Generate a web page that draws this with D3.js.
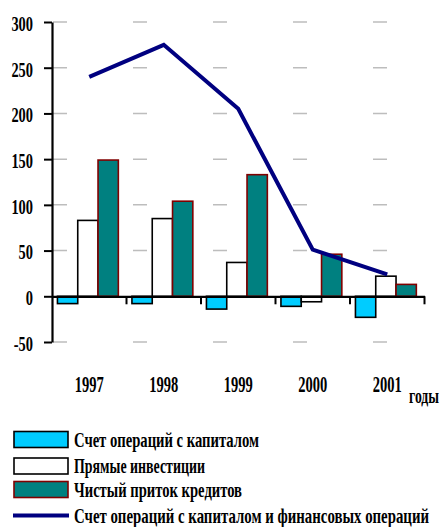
<!DOCTYPE html>
<html>
<head>
<meta charset="utf-8">
<script src="https://cdn.jsdelivr.net/npm/d3@7"></script>
<style>
  body { margin: 0; background: #fff; }
  svg text { font-family: "Liberation Serif", "DejaVu Serif", serif; font-weight: bold; }
</style>
</head>
<body>
<div id="chart"></div>
<script>
// Data
const years = ["1997", "1998", "1999", "2000", "2001"];
const capitalAccount = [-8, -8, -14, -11, -23];      // Счет операций с капиталом
const directInvestment = [83, 85, 37, -6, 22];      // Прямые инвестиции
const netCredit = [149, 104, 133, 46, 13];          // Чистый приток кредитов
const totalAccount = [240, 275, 205, 51, 24];       // Счет операций с капиталом и финансовых операций
const yTicks = [-50, 0, 50, 100, 150, 200, 250, 300];

const seriesKeys = ["capital", "direct", "credit"];
const seriesNames = {
    capital: "Счет операций с капиталом",
    direct: "Прямые инвестиции",
    credit: "Чистый приток кредитов",
    total: "Счет операций с капиталом и финансовых операций"
};
const seriesStyle = {
    capital: { fill: "#00ccff", stroke: "#000000" },
    direct: { fill: "#ffffff", stroke: "#000000" },
    credit: { fill: "#008080", stroke: "#800000" }
};

const rows = years.map((y, i) => ({
    year: y,
    capital: capitalAccount[i],
    direct: directInvestment[i],
    credit: netCredit[i],
    total: totalAccount[i]
}));

const FONT = "Liberation Serif";
const width = 440, height = 527;
const svg = d3.select("#chart").append("svg")
    .attr("width", width)
    .attr("height", height);

// Scales
const x = d3.scaleBand().domain(years).range([52, 424.5]).padding(0);
const xs = d3.scaleBand().domain(seriesKeys).range([0, x.bandwidth()])
    .paddingInner(0).paddingOuter(0.335).align(0.4);
const y = d3.scaleLinear().domain([-50, 300]).range([342, 22]);

// squeeze text horizontally to mimic the condensed face
function condense(sel, k) {
    sel.each(function () {
        const w = this.getComputedTextLength();
        d3.select(this).attr("textLength", w * k).attr("lengthAdjust", "spacingAndGlyphs");
    });
}

// Gridlines (dashed, grey)
svg.append("g").attr("class", "grid")
    .selectAll("line")
    .data(yTicks.filter(d => d !== 0))
    .join("line")
    .attr("x1", 53)
    .attr("x2", 424)
    .attr("y1", d => y(d))
    .attr("y2", d => y(d))
    .attr("stroke", "#bdbdbd")
    .attr("stroke-width", 1.5)
    .attr("stroke-dasharray", "14,66");

// Bars
const groups = svg.append("g").attr("class", "bars")
    .selectAll("g")
    .data(rows)
    .join("g")
    .attr("transform", d => `translate(${x(d.year)},0)`);

groups.selectAll("rect")
    .data(d => seriesKeys.map(k => ({ key: k, value: d[k] })))
    .join("rect")
    .attr("x", d => xs(d.key))
    .attr("width", xs.bandwidth())
    .attr("y", d => y(Math.max(0, d.value)))
    .attr("height", d => Math.abs(y(d.value) - y(0)))
    .attr("fill", d => seriesStyle[d.key].fill)
    .attr("stroke", d => seriesStyle[d.key].stroke)
    .attr("stroke-width", 1.6);

// Y axis
const yAxis = svg.append("g")
    .attr("transform", "translate(52,0)")
    .call(d3.axisLeft(y).tickValues(yTicks).tickSize(8).tickPadding(11).tickSizeOuter(0))
    .attr("font-family", FONT);
yAxis.select(".domain").attr("stroke", "#000").attr("stroke-width", 2.2);
yAxis.selectAll(".tick line").attr("stroke", "#000").attr("stroke-width", 2);
yAxis.selectAll(".tick text")
    .attr("fill", "#000")
    .attr("font-family", FONT)
    .attr("font-size", 20)
    .attr("dy", "0.42em")
    .text(d => d < 0 ? "-" + Math.abs(d) : d);
condense(yAxis.selectAll(".tick text"), 0.72);

// Zero line with category ticks
const xAxis = svg.append("g")
    .attr("transform", `translate(0,${y(0)})`)
    .call(d3.axisBottom(x).tickSize(0).tickPadding(96).tickSizeOuter(0))
    .attr("font-family", FONT);
xAxis.select(".domain").attr("stroke", "#000").attr("stroke-width", 2.2);
xAxis.selectAll(".tick text")
    .attr("fill", "#000")
    .attr("font-family", FONT)
    .attr("font-size", 23)
    .attr("dy", "0")
    .attr("textLength", 29)
    .attr("lengthAdjust", "spacingAndGlyphs");

xAxis.selectAll(".sep")
    .data(years.slice(1).map(d => x(d)).concat([x.range()[1]]))
    .join("line")
    .attr("class", "sep")
    .attr("x1", d => d)
    .attr("x2", d => d)
    .attr("y1", 0)
    .attr("y2", 8)
    .attr("stroke", "#000")
    .attr("stroke-width", 2);

svg.append("text")
    .attr("x", 409)
    .attr("y", 403)
    .attr("font-family", FONT)
    .attr("font-size", 22)
    .attr("textLength", 30)
    .attr("lengthAdjust", "spacingAndGlyphs")
    .text("годы");

// Line series
const line = d3.line()
    .x(d => x(d.year) + x.bandwidth() / 2)
    .y(d => y(d.total));

svg.append("path")
    .datum(rows)
    .attr("d", line)
    .attr("fill", "none")
    .attr("stroke", "#000080")
    .attr("stroke-width", 4);

// Legend
const legendItems = [
    { key: "capital", cy: 439.5, width: 185 },
    { key: "direct", cy: 466, width: 131 },
    { key: "credit", cy: 489.5, width: 168 },
    { key: "total", cy: 515.5, width: 355 }
];

const legend = svg.append("g").attr("class", "legend");
legendItems.forEach(item => {
    if (item.key === "total") {
        legend.append("line")
            .attr("x1", 13).attr("x2", 69)
            .attr("y1", item.cy).attr("y2", item.cy)
            .attr("stroke", "#000080")
            .attr("stroke-width", 4);
    } else {
        legend.append("rect")
            .attr("x", 14).attr("y", item.cy - 8)
            .attr("width", 54).attr("height", 16)
            .attr("fill", seriesStyle[item.key].fill)
            .attr("stroke", seriesStyle[item.key].stroke)
            .attr("stroke-width", 1.6);
    }
    legend.append("text")
        .attr("x", 74)
        .attr("y", item.cy + 7)
        .attr("font-family", FONT)
        .attr("font-size", 21)
        .attr("textLength", item.width)
        .attr("lengthAdjust", "spacingAndGlyphs")
        .text(seriesNames[item.key]);
});
</script>
</body>
</html>
